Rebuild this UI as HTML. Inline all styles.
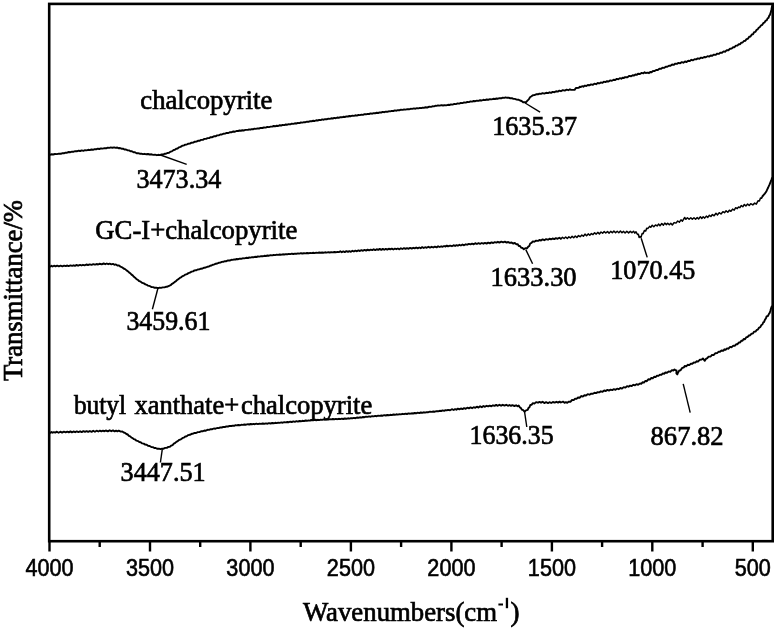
<!DOCTYPE html>
<html><head><meta charset="utf-8"><style>
html,body{margin:0;padding:0;background:#fff;}
body{width:778px;height:630px;overflow:hidden;}
svg{display:block;filter:blur(0.3px);}
.tk{font-family:"Liberation Sans",sans-serif;font-size:23px;text-anchor:middle;fill:#000;stroke:#000;stroke-width:0.6px;}
.lb{font-family:"Liberation Serif",serif;font-size:27.5px;fill:#000;stroke:#000;stroke-width:0.7px;}
.ax{font-family:"Liberation Serif",serif;font-size:27px;fill:#000;stroke:#000;stroke-width:0.7px;}
</style></head><body>
<svg width="778" height="630" viewBox="0 0 778 630">
<rect x="49.2" y="3.9" width="723.5" height="537.3" fill="none" stroke="#000" stroke-width="2.6"/>
<line x1="49.5" y1="541" x2="49.5" y2="551.5" stroke="#000" stroke-width="2.4"/>
<line x1="99.7" y1="541" x2="99.7" y2="547" stroke="#000" stroke-width="2.4"/>
<line x1="150.0" y1="541" x2="150.0" y2="551.5" stroke="#000" stroke-width="2.4"/>
<line x1="200.2" y1="541" x2="200.2" y2="547" stroke="#000" stroke-width="2.4"/>
<line x1="250.4" y1="541" x2="250.4" y2="551.5" stroke="#000" stroke-width="2.4"/>
<line x1="300.7" y1="541" x2="300.7" y2="547" stroke="#000" stroke-width="2.4"/>
<line x1="350.9" y1="541" x2="350.9" y2="551.5" stroke="#000" stroke-width="2.4"/>
<line x1="401.1" y1="541" x2="401.1" y2="547" stroke="#000" stroke-width="2.4"/>
<line x1="451.4" y1="541" x2="451.4" y2="551.5" stroke="#000" stroke-width="2.4"/>
<line x1="501.6" y1="541" x2="501.6" y2="547" stroke="#000" stroke-width="2.4"/>
<line x1="551.9" y1="541" x2="551.9" y2="551.5" stroke="#000" stroke-width="2.4"/>
<line x1="602.1" y1="541" x2="602.1" y2="547" stroke="#000" stroke-width="2.4"/>
<line x1="652.3" y1="541" x2="652.3" y2="551.5" stroke="#000" stroke-width="2.4"/>
<line x1="702.6" y1="541" x2="702.6" y2="547" stroke="#000" stroke-width="2.4"/>
<line x1="752.8" y1="541" x2="752.8" y2="551.5" stroke="#000" stroke-width="2.4"/>
<polyline points="50.6,154.7 51.7,154.2 53.2,154.5 54.9,154.0 56.9,154.1 58.9,153.6 60.9,153.8 62.4,153.2 63.9,153.3 65.5,152.6 67.1,152.7 68.8,152.0 70.4,152.2 72.1,151.6 73.7,151.7 75.3,151.1 76.9,151.3 78.5,150.7 80.2,151.0 81.8,150.4 83.4,150.8 85.0,150.2 86.6,150.4 88.2,149.8 89.8,150.1 91.4,149.5 93.0,149.8 94.6,149.1 96.2,149.3 97.8,148.7 99.4,149.0 101.0,148.4 102.7,148.6 104.5,148.1 106.2,148.3 107.8,147.7 109.4,147.9 110.9,147.4 112.3,147.8 114.2,147.4 115.8,147.9 117.2,147.5 118.5,148.2 120.0,148.0 121.5,148.7 123.0,148.6 124.4,149.5 126.0,149.5 127.7,150.4 129.0,150.4 130.5,151.3 131.9,151.3 133.5,152.3 135.0,152.3 136.5,153.2 138.0,153.1 139.7,153.7 141.3,153.6 143.0,154.2 144.7,153.8 146.3,154.3 148.0,154.0 149.7,154.5 151.5,154.3 153.2,154.9 155.0,154.7 156.7,155.2 158.3,154.8 159.9,155.1 161.5,154.5 163.0,154.5 164.5,153.8 166.0,153.8 167.3,153.0 169.0,152.8 170.4,151.7 171.9,151.3 173.7,150.0 174.9,149.8 176.2,148.8 177.6,148.5 179.0,147.3 180.6,146.9 182.2,145.8 184.0,145.4 185.3,144.6 186.8,144.5 188.3,143.7 189.9,143.6 191.5,142.7 193.2,142.6 194.8,141.7 196.4,141.6 197.9,140.8 199.4,140.8 201.1,139.9 202.8,139.8 204.4,138.9 206.0,138.9 207.6,138.1 209.1,138.1 210.7,137.2 212.3,137.2 213.9,136.3 215.5,136.3 217.1,135.4 218.7,135.4 220.3,134.5 221.9,134.5 223.5,133.7 225.1,133.6 226.7,132.9 228.4,133.0 230.1,132.1 231.7,132.2 233.4,131.5 235.0,131.7 236.5,131.0 238.0,131.0 239.7,130.5 241.0,130.8 242.2,130.2 243.6,130.5 245.5,129.9 248.0,129.9 249.1,129.4 250.3,129.7 251.6,129.2 253.0,129.3 254.4,128.7 255.9,128.9 257.5,128.4 259.1,128.5 260.7,127.9 262.3,128.0 264.0,127.5 265.7,127.6 267.3,126.9 269.0,127.1 270.6,126.6 272.2,126.6 273.7,126.0 275.2,126.3 276.7,125.7 278.2,126.0 279.7,125.2 281.3,125.5 282.8,124.9 284.3,125.1 285.8,124.5 287.3,124.7 288.8,124.1 290.3,124.4 291.8,123.7 293.4,123.9 294.9,123.3 296.4,123.5 297.9,122.9 299.4,123.1 300.9,122.5 302.4,122.6 304.0,122.1 305.5,122.2 307.0,121.7 308.6,121.8 310.1,121.2 311.7,121.3 313.2,120.7 314.7,121.0 316.2,120.3 317.7,120.5 319.2,119.9 320.7,120.1 322.2,119.4 323.7,119.7 325.1,119.1 326.7,119.3 328.3,118.7 329.8,118.9 331.3,118.3 332.8,118.5 334.3,117.9 335.8,118.2 337.3,117.5 338.8,117.8 340.3,117.2 341.8,117.3 343.3,116.8 344.8,117.0 346.4,116.4 348.0,116.5 349.4,116.0 350.9,116.2 352.4,115.7 353.9,115.9 355.4,115.3 356.9,115.6 358.4,115.0 359.9,115.1 361.4,114.6 363.0,114.9 364.5,114.2 366.1,114.3 367.6,113.9 369.1,114.0 370.7,113.4 372.2,113.7 373.7,113.1 375.2,113.3 376.7,112.7 378.2,113.0 379.7,112.4 381.3,112.5 382.8,111.9 384.3,112.2 385.8,111.6 387.3,111.8 388.8,111.3 390.3,111.4 391.8,110.9 393.4,111.0 394.9,110.4 396.4,110.7 397.9,110.1 399.4,110.3 400.9,109.7 402.5,109.9 404.1,109.5 405.7,109.6 407.3,109.1 409.0,109.3 410.6,108.8 412.2,108.9 413.9,108.4 415.4,108.7 417.0,108.1 418.5,108.4 419.9,107.9 421.3,108.1 422.7,107.6 423.9,107.9 425.1,107.3 427.3,107.5 429.3,106.7 431.0,106.9 432.5,106.3 433.9,106.4 435.3,105.8 436.6,105.9 438.0,105.4 439.8,105.6 441.4,105.1 443.0,105.5 444.6,105.1 446.2,105.4 448.0,104.8 449.5,105.0 451.0,104.4 452.6,104.6 454.3,103.9 455.9,104.1 457.6,103.4 459.3,103.6 460.9,102.9 462.5,103.1 464.1,102.4 465.7,102.6 467.3,102.0 468.9,102.1 470.5,101.4 472.1,101.6 473.7,101.0 475.3,101.2 476.9,100.6 478.5,100.9 480.1,100.2 481.8,100.5 483.4,99.8 485.0,100.1 486.6,99.5 488.2,99.8 489.9,99.1 491.6,99.4 493.3,98.8 495.0,99.0 496.6,98.5 498.0,98.7 499.4,98.2 501.3,98.3 502.8,97.7 504.3,97.9 505.6,97.4 507.1,97.8 508.7,97.6 510.3,98.3 511.9,98.2 513.4,98.9 514.8,98.9 516.7,99.6 518.4,99.7 520.0,100.5 521.6,101.0 523.1,102.2 524.5,102.3 526.1,102.2 527.7,100.4 528.8,99.4 530.0,97.3 531.5,96.3 532.9,95.2 534.4,95.1 536.1,94.3 538.0,94.3 539.4,93.6 541.0,93.9 542.6,93.1 544.3,93.6 546.1,92.8 548.0,93.1 549.5,92.3 551.1,92.9 552.7,91.9 554.4,92.2 556.1,91.3 557.8,91.6 559.4,90.7 560.9,91.2 562.8,90.1 564.8,90.6 566.6,89.7 568.4,90.2 569.9,89.3 571.1,89.9 573.7,89.9 574.6,89.9 575.9,88.0 578.8,87.7 579.8,86.8 580.9,87.0 582.1,86.2 583.4,86.7 584.8,85.6 586.3,86.0 587.8,85.0 589.4,85.3 591.0,84.4 592.7,84.9 594.4,83.7 596.1,84.2 597.7,83.0 599.4,83.4 600.8,82.4 602.3,82.9 603.8,81.7 605.4,82.1 607.0,81.2 608.6,81.5 610.3,80.4 611.9,80.8 613.6,79.8 615.2,80.0 616.8,78.9 618.3,79.2 619.8,78.2 621.3,78.7 622.6,77.7 623.9,78.0 625.1,77.1 627.4,77.2 629.3,75.9 631.1,76.3 632.7,75.2 634.1,75.5 635.4,74.5 636.7,74.9 638.0,73.8 640.0,74.0 641.7,72.9 643.3,73.4 644.6,72.3 645.7,73.0 648.0,72.6 649.0,73.2 650.2,72.0 651.5,72.3 653.0,71.0 654.6,71.1 656.2,69.9 657.8,70.0 659.4,68.7 660.9,68.9 662.5,67.8 664.1,67.9 665.7,66.7 667.3,66.7 668.9,65.7 670.5,65.8 672.1,64.5 673.7,64.9 675.3,63.6 676.9,63.9 678.5,62.9 680.1,63.3 681.8,62.1 683.4,62.7 685.0,61.5 686.6,62.0 688.2,60.8 689.8,61.1 691.4,59.8 693.0,60.3 694.6,59.2 696.2,59.4 697.8,58.4 699.4,58.7 701.0,57.6 702.6,58.0 704.2,57.0 705.8,57.2 707.5,56.2 709.1,56.6 710.7,55.5 712.3,55.8 713.9,54.6 715.6,54.9 717.2,53.6 718.8,53.9 720.5,52.6 722.0,52.8 723.6,51.4 725.1,51.7 726.8,50.1 728.4,50.2 730.0,48.7 731.6,48.6 733.1,47.2 734.5,47.2 735.9,45.6 737.4,45.6 738.8,44.1 740.1,44.2 741.3,42.6 742.6,42.5 743.9,41.0 745.2,40.8 746.5,39.1 747.9,38.8 749.2,36.8 750.5,36.5 751.8,34.5 753.0,34.3 754.1,32.2 755.3,31.9 756.5,29.9 757.7,29.4 758.7,27.6 759.7,27.3 761.1,25.3 762.3,24.8 763.4,22.9 764.5,22.6 765.6,20.7 766.7,20.3 767.6,18.3 768.5,17.9 769.2,15.7 769.9,15.0 770.4,13.3 770.9,11.9 771.4,9.8 771.8,7.8 772.0,6.3" fill="none" stroke="#000" stroke-width="1.9" stroke-linejoin="round" stroke-linecap="round"/>
<polyline points="50.6,266.5 51.5,265.8 52.6,266.5 54.0,265.7 55.5,266.4 57.2,265.6 58.9,266.3 60.6,265.7 62.4,266.3 64.1,265.6 65.8,266.1 67.3,265.5 68.6,266.1 70.5,265.4 72.1,265.9 73.6,265.3 75.0,265.9 76.4,265.0 78.1,265.7 80.1,264.9 81.5,265.5 83.0,264.8 84.6,265.3 86.3,264.5 88.0,265.0 89.8,264.4 91.6,264.9 93.3,264.2 95.0,264.7 96.6,264.0 98.1,264.5 99.4,263.8 101.7,264.3 103.6,263.5 105.3,264.2 106.8,263.5 108.2,264.2 109.7,263.6 111.4,264.3 113.0,263.9 114.4,264.7 115.9,264.4 117.4,265.5 119.0,265.4 120.5,266.7 122.1,267.3 123.6,268.5 125.1,269.1 126.5,270.4 127.7,271.1 129.0,272.4 130.2,273.2 131.5,274.6 132.7,275.4 133.9,276.8 135.1,277.7 136.5,279.2 138.0,280.0 139.3,281.2 140.7,281.7 142.3,282.9 143.9,283.4 145.4,284.4 146.8,284.8 148.0,285.7 150.1,286.2 151.6,287.1 153.1,287.1 154.7,287.8 156.3,287.7 158.3,288.1 159.6,287.6 161.1,287.9 162.7,287.4 164.4,287.4 165.9,286.8 167.3,286.7 169.1,285.8 170.6,285.2 172.1,283.8 173.7,282.9 174.9,281.8 176.0,281.2 177.2,279.8 178.5,279.2 179.9,277.8 181.4,277.1 182.7,276.1 184.0,275.6 185.4,274.6 186.9,274.1 188.4,273.1 189.9,272.7 191.5,271.6 193.0,271.4 194.5,270.4 196.1,270.3 197.7,269.5 199.3,269.4 200.9,268.7 202.6,268.5 204.2,267.7 205.8,267.5 207.2,266.8 208.7,266.6 210.1,265.8 211.5,265.5 213.0,264.7 214.4,264.4 215.8,263.7 217.3,263.5 218.7,262.8 220.3,262.6 221.8,261.9 223.3,261.8 224.9,261.2 226.4,261.2 228.0,260.4 229.7,260.5 231.5,259.8 232.8,259.9 234.2,259.4 235.5,259.5 236.8,259.0 238.2,259.2 239.7,258.6 241.2,258.8 242.7,258.3 244.4,258.4 246.1,257.8 248.0,258.0 249.3,257.5 250.6,257.6 252.0,257.2 253.4,257.3 254.9,256.8 256.4,257.0 257.9,256.5 259.5,256.6 261.1,256.1 262.7,256.3 264.3,255.8 265.9,256.0 267.5,255.5 269.0,255.7 270.6,255.2 272.2,255.4 273.7,255.0 275.2,255.1 276.7,254.7 278.2,254.9 279.7,254.5 281.3,254.7 282.8,254.3 284.3,254.5 285.8,254.1 287.3,254.3 288.8,253.9 290.3,254.1 291.8,253.7 293.4,254.0 294.9,253.6 296.4,253.8 297.9,253.4 299.4,253.6 300.9,253.2 302.4,253.5 304.0,253.2 305.5,253.4 307.0,253.0 308.6,253.3 310.1,252.9 311.7,253.1 313.2,252.8 314.7,253.1 316.2,252.7 317.7,252.9 319.2,252.5 320.7,252.8 322.2,252.5 323.7,252.7 325.1,252.3 326.7,252.6 328.3,252.2 329.8,252.5 331.3,252.1 332.8,252.4 334.3,252.0 335.8,252.3 337.3,251.9 338.8,252.1 340.3,251.3 341.8,252.3 343.3,251.4 344.8,252.1 346.4,251.1 348.0,251.9 349.4,251.1 350.9,251.8 352.4,250.8 353.9,251.5 355.4,250.7 356.9,251.3 358.4,250.4 359.9,251.0 361.4,250.1 363.0,250.8 364.5,249.9 366.1,250.6 367.6,249.6 369.1,250.3 370.7,249.6 372.2,250.1 373.7,249.2 375.2,250.1 376.7,249.2 378.2,249.9 379.7,248.9 381.3,249.9 382.8,248.9 384.3,249.8 385.8,248.9 387.3,249.6 388.8,248.7 390.3,249.4 391.8,248.6 393.4,249.5 394.9,248.7 396.4,249.2 397.9,248.5 399.4,249.3 400.9,248.3 402.4,249.0 404.0,248.1 405.5,248.9 407.0,248.1 408.6,248.8 410.1,247.9 411.7,248.6 413.2,247.8 414.7,248.4 416.2,247.5 417.7,248.3 419.2,247.5 420.7,248.2 422.2,247.1 423.7,248.0 425.1,247.2 426.7,247.8 428.4,246.8 430.0,247.6 431.7,246.8 433.3,247.5 434.9,246.6 436.6,247.4 438.1,246.3 439.7,247.0 441.2,246.3 442.7,246.8 444.1,246.0 445.5,246.6 446.8,245.6 448.0,246.4 450.1,245.6 451.9,246.2 453.6,245.2 455.1,246.0 456.5,245.1 457.9,245.7 459.4,244.8 460.9,245.5 462.5,244.5 464.1,245.3 465.7,244.3 467.3,244.7 468.9,243.9 470.5,244.4 472.1,243.6 473.7,244.3 475.3,243.2 476.9,244.0 478.5,243.2 480.1,243.8 481.8,243.0 483.4,243.7 485.0,242.9 486.6,243.6 488.2,242.6 489.9,243.4 491.5,242.4 493.2,243.0 494.8,242.1 496.4,242.6 497.9,241.8 499.4,242.6 501.3,241.6 503.2,242.4 504.9,241.7 506.6,242.6 508.2,242.0 509.7,242.9 511.6,242.5 513.3,243.6 514.8,242.9 516.1,244.2 517.6,244.1 518.8,246.0 520.0,246.0 521.2,247.8 522.5,247.9 523.8,249.3 525.3,248.2 526.9,248.4 528.3,246.6 529.3,246.0 530.2,243.5 531.5,242.9 532.8,241.4 534.3,241.7 536.1,240.6 538.0,240.9 539.4,239.9 541.0,240.5 542.6,239.4 544.3,240.2 546.1,239.1 548.0,239.7 549.5,238.7 551.0,239.4 552.6,238.5 554.3,239.1 555.9,238.1 557.6,238.8 559.3,237.7 560.9,238.8" fill="none" stroke="#000" stroke-width="1.9" stroke-linejoin="round" stroke-linecap="round"/>
<polyline points="560.9,238.8 562.5,237.3 564.1,238.5 565.7,237.0 567.3,238.5 568.9,236.8 570.5,238.0 572.1,236.4 573.7,237.8 575.3,236.0 576.9,237.5 578.5,235.6 580.1,236.7 581.8,235.1 583.4,236.2 585.0,234.1 586.6,235.7 588.2,233.9 589.8,235.3 591.4,233.6 593.0,234.6 594.6,232.7 596.2,234.1 597.8,232.4 599.4,233.9 601.0,232.0 602.6,233.2 604.2,231.6 605.8,233.0 607.5,231.5 609.1,233.1 610.7,231.4 612.3,232.7 613.9,231.1 615.6,232.7 617.2,231.3 618.8,232.7 620.4,231.0 622.0,232.7 623.6,231.4 625.1,233.0 626.8,231.2 628.6,232.9 630.3,231.4 631.9,232.7 633.5,231.2 634.8,233.1 636.0,231.8 637.5,234.5 638.4,234.3 639.1,237.4 639.9,236.5 641.0,237.4 642.1,233.6 643.1,233.8 644.4,230.5 645.7,231.0 646.7,228.2 647.8,228.6 649.6,226.4 650.8,227.3 652.2,225.2 653.8,226.7 655.5,224.9 657.1,225.9 658.7,224.1 660.0,225.7 661.8,223.5 663.4,225.1 664.8,223.1 666.2,224.6 667.7,223.2 669.3,224.8 670.8,223.3 672.3,224.9 674.2,222.6 676.0,223.1 677.7,221.0 679.4,222.2 681.0,219.8 682.4,221.2 684.7,217.5 685.9,219.3 687.4,217.8 689.1,219.3 690.8,217.8 692.3,219.3 694.0,217.7 695.6,219.2 697.2,217.5 698.6,219.0 700.4,216.8 701.8,218.5 703.2,216.8 704.7,218.1 706.3,216.1 707.8,217.4 709.4,215.3 710.9,216.5 712.4,214.5 714.1,215.8 716.0,213.3 717.5,214.9 719.2,212.7 721.0,214.0 722.9,211.7 724.5,212.7 726.1,210.8 727.8,212.3 729.4,210.2 730.9,211.3 732.6,209.1 734.2,210.1 735.7,207.7 737.2,208.6 738.6,206.9 739.9,207.6 741.3,205.5 742.8,206.8 744.3,204.5 745.9,205.9 747.6,204.0 749.2,205.5 750.7,203.7 752.8,204.9 754.7,203.1 756.3,204.1 758.0,200.8 759.4,201.0 760.5,198.0 761.5,198.3 762.6,196.2" fill="none" stroke="#000" stroke-width="1.5" stroke-linejoin="round" stroke-linecap="round"/>
<polyline points="762.6,196.2 763.7,194.9 764.8,193.6 765.8,192.2 766.7,190.7 767.4,189.2 768.2,187.5 768.8,186.1 769.5,184.7 770.1,183.2 770.6,181.9 771.5,179.6 772.1,177.9" fill="none" stroke="#000" stroke-width="1.9" stroke-linejoin="round" stroke-linecap="round"/>
<polyline points="50.6,432.8 51.5,432.0 52.6,432.7 53.9,432.1 55.3,432.6 56.9,431.7 58.6,432.7 60.3,431.7 62.1,432.6 63.9,431.7 65.6,432.4 67.3,431.6 68.8,432.3 70.4,431.4 71.9,432.4 73.5,431.5 75.2,432.2 76.8,431.4 78.4,432.1 80.1,431.3 81.7,432.1 83.4,431.1 85.0,431.9 86.6,431.1 88.2,431.9 89.9,431.0 91.6,431.9 93.2,430.8 94.9,431.8 96.6,430.7 98.3,431.5 99.9,430.6 101.4,431.3 103.0,430.6 104.4,431.3 105.8,430.5 107.8,431.3 109.6,430.3 111.4,431.2 113.0,430.4 114.6,431.4 116.1,430.6 117.4,431.3 118.7,430.6 120.8,431.6 122.3,431.5 123.7,432.5 125.1,432.9 126.4,434.0 127.7,434.5 128.9,435.8 130.2,436.4 131.5,437.7 132.7,438.1 133.9,439.2 135.1,439.5 136.5,440.7 138.0,441.1 139.3,442.1 140.7,442.3 142.2,443.4 143.7,443.6 145.2,444.6 146.7,444.8 148.0,445.8 149.7,446.0 151.3,447.0 152.8,447.1 154.3,448.0 155.7,448.0 157.4,448.8 158.9,448.6 160.4,449.1 162.1,448.6 163.6,448.7 165.2,447.9 166.8,447.9 168.4,446.9 169.9,446.7 171.3,445.6 172.6,445.1 173.8,443.7 175.0,443.1 176.3,441.8 177.8,441.1 179.3,439.8 180.9,439.3 182.7,437.9 184.0,437.6 185.3,436.5 186.7,436.2 188.2,435.1 189.9,434.8 191.7,433.8 193.0,433.8 194.5,432.9 196.1,433.0 197.7,432.1 199.3,432.1 201.0,431.3 202.6,431.3 204.3,430.5 205.8,430.7 207.5,429.8 209.1,429.9 210.7,429.2 212.3,429.2 213.9,428.5 215.5,428.7 217.1,428.0 218.7,428.1 220.3,427.4 221.8,427.5 223.3,426.9 224.9,427.0 226.4,426.4 228.0,426.5 229.7,425.9 231.5,426.0 232.8,425.6 234.2,425.8 235.5,425.2 236.8,425.4 238.2,425.0 239.7,425.3 241.2,424.8 242.7,424.9 244.4,424.5 246.1,424.7 248.0,424.2 249.3,424.5 250.6,424.0 252.0,424.3 253.4,423.9 254.9,424.2 256.4,423.7 257.9,424.1 259.5,423.6 261.1,423.9 262.7,423.5 264.3,423.8 265.9,423.4 267.5,423.7 269.0,423.1 270.6,423.5 272.2,423.0 273.7,423.3 275.2,422.8 276.7,423.1 278.2,422.6 279.7,422.9 281.3,422.4 282.8,422.7 284.3,422.2 285.8,422.4 287.3,422.0 288.8,422.2 290.3,421.7 291.8,422.0 293.4,421.4 294.9,421.8 296.4,421.2 297.9,421.6 299.4,421.0 300.9,421.3 302.4,420.8 304.0,421.1 305.5,420.5 307.0,420.8 308.6,420.4 310.1,420.6 311.7,420.1 313.2,420.4 314.7,419.9 316.2,420.3 317.7,419.8 319.2,420.1 320.7,419.6 322.2,419.9 323.7,419.4 325.1,419.7 326.7,419.3 328.3,419.5 329.8,419.1 331.3,419.4 332.8,419.0 334.3,419.3 335.8,418.9 337.3,419.2 338.8,418.8 340.3,419.1 341.8,418.7 343.3,419.0 344.8,418.5 346.4,418.8 348.0,418.3 349.4,418.6 350.9,418.1 352.4,418.3 353.9,417.9 355.4,418.2 356.9,417.5 358.4,417.8 359.9,417.3 361.4,417.6 363.0,417.0 364.5,417.2 366.1,416.6 367.6,416.9 369.1,416.4 370.7,416.7 372.2,416.2 373.7,416.4 375.2,415.9 376.7,416.2 378.2,415.6 379.7,415.9 381.3,415.5 382.8,415.7 384.3,415.1 385.8,415.5 387.3,415.0 388.8,415.3 390.3,414.8 391.8,415.1 393.4,414.5 394.9,414.8 396.4,414.3 397.9,414.6 399.4,414.1 400.9,414.4 402.4,413.8 404.0,414.2 405.5,413.7 407.0,414.0 408.6,413.4 410.1,413.7 411.7,413.3 413.2,413.5 414.7,413.0 416.2,413.3 417.7,412.7 419.2,413.1 420.7,412.5 422.2,412.8 423.7,412.3 425.1,412.6 426.7,412.1 428.4,412.2 430.0,411.7 431.7,411.9 433.3,411.5 434.9,411.7 436.6,411.1 438.1,411.3 439.7,410.8 441.2,411.0 442.7,410.4 444.1,410.8 445.5,410.1 446.8,410.4 448.0,409.9 450.1,410.3 451.9,409.2 453.6,410.0 455.1,409.1 456.5,409.7 457.9,408.6 459.4,409.3 460.9,408.5 462.5,409.1 464.1,408.1 465.7,408.8 467.3,407.7 468.9,408.3 470.5,407.4 472.1,408.2 473.7,407.2 475.3,407.8 476.9,406.7 478.5,407.6 480.1,406.3 481.8,407.2 483.4,406.0 485.0,406.8 486.6,405.8 488.2,406.4 489.8,405.6 491.4,406.3 493.0,405.3 494.6,405.9 496.2,404.9 497.8,405.8 499.4,404.8 501.1,405.7 502.8,404.8 504.5,405.6 506.2,404.8 507.9,405.8 509.5,405.0 511.0,405.9 512.3,405.2 514.4,406.0 516.1,405.3 517.5,406.3 518.7,405.6 520.0,407.5 521.0,408.1 521.9,409.7 523.2,410.2 524.5,411.7 526.0,410.4 527.7,409.9 528.5,407.8 529.4,407.4 530.3,405.0 531.5,404.8 532.9,403.1 534.4,403.6 536.1,402.1 538.0,402.7 539.4,401.9 541.0,402.7 542.6,401.8 544.3,403.1 546.1,402.2 548.0,403.1 549.5,402.2 551.2,403.0 552.9,402.0 554.7,402.6 556.4,401.8 558.1,402.6 559.6,401.6 560.9,402.5 563.0,401.6 564.5,402.8 565.9,402.1 567.3,402.8 568.9,401.6 570.4,401.8 572.0,400.0 573.7,400.1 575.1,398.7 576.5,398.9 578.0,397.5 579.6,397.7 581.4,396.0 582.8,396.6 584.4,395.2 586.0,395.5 587.7,394.2 589.5,394.7 591.2,393.6 593.0,393.8 594.5,392.8 596.1,393.1 597.7,392.1 599.3,392.4 600.9,391.3 602.6,391.8 604.2,390.5 605.8,391.0 607.4,389.9 609.0,390.6 610.6,389.7 612.2,390.1 613.9,389.2 615.5,389.8 617.1,388.7 618.7,389.2 620.3,388.0 622.0,388.6 623.7,387.1 625.4,387.6 627.0,386.2 628.6,386.7 630.1,385.6 631.5,386.1 633.4,384.8 635.0,385.3 636.5,384.2 638.1,384.8 640.0,383.4 641.2,383.9 642.5,382.3 643.9,382.6 645.4,380.9 646.8,381.2 648.3,379.3 649.8,379.6 651.3,378.0 652.7,378.3 654.1,376.8 655.6,377.1 657.0,375.6 658.5,375.9 659.9,374.6 661.4,374.9 662.8,373.4 664.1,373.8 665.4,372.5 667.0,372.8 668.7,371.4 670.3,371.8 671.9,370.1 673.3,370.5 674.5,369.4 675.4,370.2 676.5,370.5 676.4,373.4 677.3,374.4 678.1,372.4 679.3,370.5 680.6,370.2 681.9,368.2 683.8,367.4 684.9,365.9 686.2,366.3 687.7,364.8 689.3,365.1 690.8,363.8 692.3,363.8 693.8,362.5 695.3,362.6 696.7,361.3 698.0,361.6 699.9,359.7 701.6,359.6 702.9,358.4 704.8,360.8 706.0,358.8 707.3,358.1 708.6,356.6 710.7,356.5 712.0,354.9 713.6,355.1 715.4,353.2 717.1,353.1 718.7,351.6 720.0,351.8 721.5,350.5 723.4,350.8 724.4,349.3 725.6,349.8 727.0,348.4 728.5,348.7 730.1,346.9 731.7,347.2 733.3,345.6 734.7,345.9 736.1,344.3 737.5,344.2 738.8,342.5 740.1,342.5 741.3,340.7 742.5,340.8 743.7,339.0 745.0,339.2 746.3,337.2 747.5,337.1 748.9,335.5 750.2,335.2 751.6,333.6 752.9,333.6 754.2,331.6 755.5,331.6 756.7,330.0 757.7,329.7 759.1,327.6 760.3,327.1 761.4,325.0 762.4,324.5 763.2,322.5 764.0,322.2 765.1,319.3 765.9,318.5 766.6,316.4 767.9,316.0 769.1,313.6 769.7,313.1 770.3,311.1 770.8,309.2 771.3,307.6 771.7,306.5" fill="none" stroke="#000" stroke-width="1.9" stroke-linejoin="round" stroke-linecap="round"/>
<line x1="160.5" y1="155" x2="186.7" y2="164.3" stroke="#000" stroke-width="1.4"/>
<line x1="525.1" y1="103" x2="540.1" y2="112.2" stroke="#000" stroke-width="1.4"/>
<line x1="158" y1="288" x2="152.4" y2="309.3" stroke="#000" stroke-width="1.4"/>
<line x1="525.8" y1="249.6" x2="532.6" y2="263.8" stroke="#000" stroke-width="1.4"/>
<line x1="641.2" y1="238.3" x2="647.2" y2="257.4" stroke="#000" stroke-width="1.4"/>
<line x1="162.3" y1="449.1" x2="160.4" y2="462.5" stroke="#000" stroke-width="1.4"/>
<line x1="524.5" y1="411.3" x2="526.8" y2="427" stroke="#000" stroke-width="1.4"/>
<line x1="683.2" y1="383.8" x2="690.2" y2="412.6" stroke="#000" stroke-width="1.4"/>
<text x="49.5" y="575.7" class="tk" textLength="48.08" lengthAdjust="spacingAndGlyphs">4000</text>
<text x="150.0" y="575.7" class="tk" textLength="48.08" lengthAdjust="spacingAndGlyphs">3500</text>
<text x="250.4" y="575.7" class="tk" textLength="48.08" lengthAdjust="spacingAndGlyphs">3000</text>
<text x="350.9" y="575.7" class="tk" textLength="48.08" lengthAdjust="spacingAndGlyphs">2500</text>
<text x="451.4" y="575.7" class="tk" textLength="48.08" lengthAdjust="spacingAndGlyphs">2000</text>
<text x="551.9" y="575.7" class="tk" textLength="48.08" lengthAdjust="spacingAndGlyphs">1500</text>
<text x="652.3" y="575.7" class="tk" textLength="48.08" lengthAdjust="spacingAndGlyphs">1000</text>
<text x="752.8" y="575.7" class="tk" textLength="36.06" lengthAdjust="spacingAndGlyphs">500</text>
<text x="140.30" y="108.90" class="lb" textLength="132.00" lengthAdjust="spacingAndGlyphs">chalcopyrite</text>
<text x="492.20" y="134.70" class="lb" textLength="85.00" lengthAdjust="spacingAndGlyphs">1635.37</text>
<text x="136.40" y="187.60" class="lb" textLength="85.00" lengthAdjust="spacingAndGlyphs">3473.34</text>
<text x="95.30" y="239.00" class="lb" textLength="202.00" lengthAdjust="spacingAndGlyphs">GC-I+chalcopyrite</text>
<text x="490.60" y="285.80" class="lb" textLength="86.00" lengthAdjust="spacingAndGlyphs">1633.30</text>
<text x="610.30" y="279.00" class="lb" textLength="85.00" lengthAdjust="spacingAndGlyphs">1070.45</text>
<text x="126.40" y="329.70" class="lb" textLength="84.00" lengthAdjust="spacingAndGlyphs">3459.61</text>
<text x="469.60" y="443.50" class="lb" textLength="84.00" lengthAdjust="spacingAndGlyphs">1636.35</text>
<text x="650.60" y="445.10" class="lb" textLength="73.00" lengthAdjust="spacingAndGlyphs">867.82</text>
<text x="120.60" y="480.90" class="lb" textLength="85.00" lengthAdjust="spacingAndGlyphs">3447.51</text>
<text x="73.90" y="413.70" class="lb" textLength="52.20" lengthAdjust="spacingAndGlyphs">butyl</text>
<text x="134.40" y="413.70" class="lb" textLength="104.80" lengthAdjust="spacingAndGlyphs">xanthate+</text>
<text x="240.90" y="413.70" class="lb" textLength="131.40" lengthAdjust="spacingAndGlyphs">chalcopyrite</text>
<text class="ax" transform="translate(22,381) rotate(-90)" x="0" y="0" textLength="181" lengthAdjust="spacingAndGlyphs">Transmittance/%</text>
<text class="ax" x="303" y="621.2" textLength="194" lengthAdjust="spacingAndGlyphs">Wavenumbers(cm</text>
<rect x="498.4" y="603.5" width="4.6" height="2" fill="#000"/>
<rect x="505.8" y="597.8" width="2.3" height="10.4" fill="#000"/>
<text class="ax" x="510.5" y="621.2">)</text>
</svg>
</body></html>
